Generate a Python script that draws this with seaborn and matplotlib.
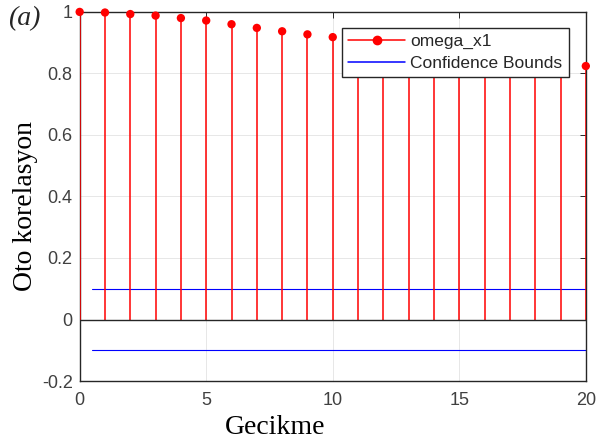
import matplotlib
matplotlib.use('Agg')
import matplotlib.pyplot as plt
from matplotlib.legend_handler import HandlerLine2D
from matplotlib.lines import Line2D
from matplotlib.ticker import FuncFormatter
import seaborn as sns
import numpy as np
import pandas as pd

# autocorrelation of omega_x1, lags 0..20
lags = list(range(21))
acf_vals = [1.000, 0.998, 0.993, 0.988, 0.980, 0.972, 0.960, 0.948, 0.937,
            0.927, 0.918, 0.909, 0.900, 0.890, 0.881, 0.871, 0.862, 0.853,
            0.843, 0.834, 0.824]
bound_x = [0.5, 20]
upper_bound = [0.099, 0.099]
lower_bound = [-0.098, -0.098]
x_ticks = [0, 5, 10, 15, 20]
y_ticks = [-0.2, 0, 0.2, 0.4, 0.6, 0.8, 1.0]


class StemHandler(HandlerLine2D):
    # marker sits at the right end of the legend line, like MATLAB stem
    def get_xdata(self, legend, xdescent, ydescent, width, height, fontsize):
        xdata, _ = super().get_xdata(legend, xdescent, ydescent, width,
                                     height, fontsize)
        return xdata, [xdata[-1]]


sns.set_style('white')
plt.rcParams['font.family'] = ['Liberation Sans', 'DejaVu Sans']

fig = plt.figure(figsize=(5.99, 4.41), dpi=100)
ax = fig.add_axes([0.133, 0.136, 0.845, 0.837])

acf = pd.DataFrame({'lag': lags, 'acf': acf_vals})
ax.vlines(acf['lag'], 0, acf['acf'], color='#ff0000', lw=1.1, zorder=3)
sns.scatterplot(data=acf, x='lag', y='acf', ax=ax, color='#ff0000',
                s=36, edgecolor='none', zorder=4, clip_on=False)

bounds = pd.DataFrame({'x': bound_x * 2,
                       'y': upper_bound + lower_bound,
                       'side': ['up', 'up', 'low', 'low']})
sns.lineplot(data=bounds, x='x', y='y', units='side', estimator=None,
             color='#0000ff', lw=0.8, ax=ax, zorder=2)
ax.axhline(0, color='#262626', lw=1.0, zorder=3)

ax.set_xlim(0, 20)
ax.set_ylim(-0.2, 1.0)
ax.set_xticks(x_ticks)
ax.set_yticks(y_ticks)
ax.yaxis.set_major_formatter(FuncFormatter(lambda v, p: '%g' % round(v, 2)))
ax.grid(True, color='#e3e3e3', lw=0.6)
ax.set_axisbelow(True)
ax.tick_params(direction='in', length=4, width=0.7, colors='#262626',
               labelsize=13, top=True, right=True)
ax.tick_params(axis='x', pad=8, labelcolor='#404040')
ax.tick_params(axis='y', pad=5, labelcolor='#404040')
for sp in ax.spines.values():
    sp.set_color('#262626')
    sp.set_linewidth(1.0)

ax.set_xlabel('Gecikme', family='Liberation Serif', fontsize=20,
              color='black', labelpad=4)
ax.xaxis.label.set_x(0.386)
ax.set_ylabel('Oto korelasyon', family='Liberation Serif', fontsize=20,
              color='black', labelpad=3)
ax.yaxis.label.set_y(0.474)
fig.text(0.013, 0.958, '(a)', family='Liberation Serif', style='italic',
         fontsize=20, ha='left', va='center')

h1 = Line2D([], [], color='#ff0000', lw=1.1, marker='o', markersize=6)
h2 = Line2D([], [], color='#0000ff', lw=1.1)
leg = ax.legend([h1, h2], ['omega_x1', 'Confidence Bounds'],
                handler_map={h1: StemHandler(numpoints=1)},
                loc='upper right', bbox_to_anchor=(0.966, 0.957),
                borderaxespad=0, fontsize=12.5, handlelength=3.3,
                handletextpad=0.3, borderpad=0.35, labelspacing=0.4,
                fancybox=False, framealpha=1, edgecolor='#262626')
leg.get_frame().set_linewidth(1.0)
for t in leg.get_texts():
    t.set_color('#262626')

fig.savefig('out.png', dpi=100)
